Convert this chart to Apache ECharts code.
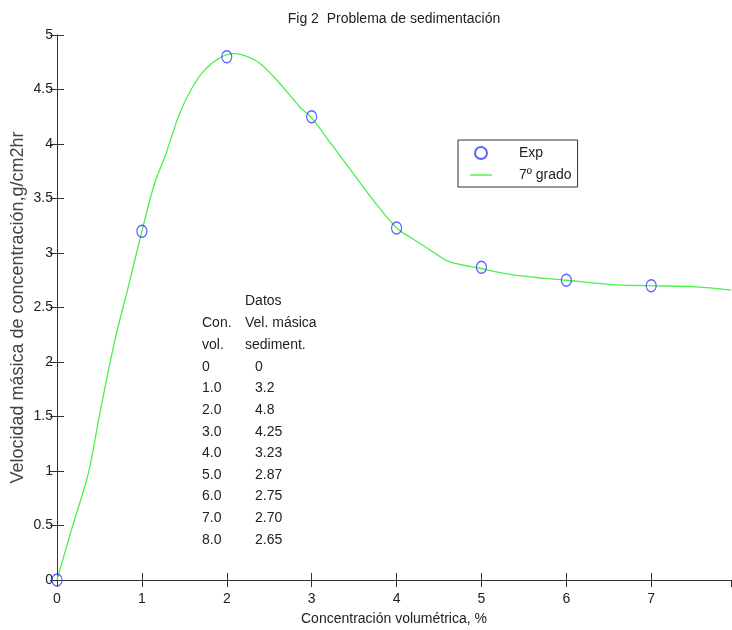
<!DOCTYPE html>
<html>
<head>
<meta charset="utf-8">
<script src="https://cdn.jsdelivr.net/npm/echarts@6/dist/echarts.min.js"></script>
<style>
  html, body { margin: 0; padding: 0; background: #fff; }
  #main { width: 732px; height: 630px; }
</style>
</head>
<body>
<div id="main"></div>
<script>
// datos experimentales
var conVol = [0, 1, 2, 3, 4, 5, 6, 7, 8];
var velMasica = [0, 3.2, 4.8, 4.25, 3.23, 2.87, 2.75, 2.70, 2.65];
// etiquetas de la tabla
var conLabels = ['0', '1.0', '2.0', '3.0', '4.0', '5.0', '6.0', '7.0', '8.0'];
var velLabels = ['0', '3.2', '4.8', '4.25', '3.23', '2.87', '2.75', '2.70', '2.65'];

// curva de ajuste (7º grado)
var fitX = [0, 0.17, 0.37, 0.49, 0.60, 0.70, 0.84, 1.0, 1.15, 1.27, 1.43, 1.58, 1.74, 1.94, 2.09, 2.25,
            2.39, 2.62, 2.86, 3.0, 3.25, 3.49, 3.72, 4.0, 4.19, 4.39, 4.62, 4.98, 5.37, 6.0, 6.54, 6.98, 7.53, 7.94];
var fitY = [0, 0.46, 0.98, 1.47, 1.90, 2.26, 2.69, 3.2, 3.64, 3.88, 4.25, 4.50, 4.68, 4.80, 4.83, 4.80,
            4.74, 4.56, 4.34, 4.24, 3.98, 3.73, 3.49, 3.23, 3.13, 3.03, 2.92, 2.86, 2.80, 2.75, 2.71, 2.70, 2.69, 2.66];

var FONT = '"Liberation Sans", Arial, sans-serif';
var AXC = '#333';
var GREEN = '#4cf04c';
var BLUE = '#3a3aff';

var myChart = echarts.init(document.getElementById('main'));

var expData = conVol.map(function (x, i) { return [x, velMasica[i]]; });
var fitData = fitX.map(function (x, i) { return [x, fitY[i]]; });

// texto de la tabla
var tableLines = [];
tableLines.push({ left: 245, top: 294, text: 'Datos' });
tableLines.push({ left: 202, top: 316, text: 'Con.' });
tableLines.push({ left: 245, top: 316, text: 'Vel. másica' });
tableLines.push({ left: 202, top: 338, text: 'vol.' });
tableLines.push({ left: 245, top: 338, text: 'sediment.' });
for (var i = 0; i < conLabels.length; i++) {
    tableLines.push({ left: 202, top: 360 + i * 21.6, text: conLabels[i] });
    tableLines.push({ left: 255, top: 360 + i * 21.6, text: velLabels[i] });
}

var axisCommon = {
    type: 'value',
    axisLine: { show: true, lineStyle: { color: AXC, width: 1 } },
    axisTick: { show: true, inside: true, length: 7, lineStyle: { color: AXC } },
    splitLine: { show: false },
    axisLabel: { color: '#222', fontFamily: FONT, fontSize: 14 }
};

myChart.setOption({
    animation: false,
    title: {
        text: 'Fig 2  Problema de sedimentación',
        left: 389, top: 7, textAlign: 'center',
        textStyle: { fontFamily: FONT, fontSize: 14, fontWeight: 'normal', color: '#222' }
    },
    grid: { left: 57, right: 1, top: 35, bottom: 50, outerBoundsMode: 'none' },
    legend: {
        orient: 'vertical',
        left: 458, top: 140,
        borderColor: '#333', borderWidth: 1,
        padding: [6, 6, 5, 12],
        itemGap: 8,
        itemWidth: 22, itemHeight: 12,
        textStyle: { fontFamily: FONT, fontSize: 14, color: '#222', padding: [0, 0, 0, 22] },
        data: [
            { name: 'Exp' },
            { name: '7º grado', icon: 'path://M0,0M22,12M0,5.3L22,5.3L22,6.7L0,6.7Z' }
        ]
    },
    xAxis: [
        Object.assign({}, axisCommon, {
            min: 0, max: 7.94, interval: 1,
            name: 'Concentración volumétrica, %',
            nameLocation: 'middle', nameGap: 32,
            nameTextStyle: { fontFamily: FONT, fontSize: 14, color: '#222' },
            axisLabel: Object.assign({}, axisCommon.axisLabel, { margin: 12, showMaxLabel: false })
        }),
        Object.assign({}, axisCommon, {
            position: 'top', min: 0, max: 7.94, interval: 1,
            axisLabel: { show: false }
        })
    ],
    yAxis: [
        Object.assign({}, axisCommon, {
            min: 0, max: 5, interval: 0.5,
            name: 'Velocidad másica de concentración,g/cm2hr',
            nameLocation: 'middle', nameGap: 30, nameMoveOverlap: false,
            nameTextStyle: { fontFamily: FONT, fontSize: 18, color: '#444' },
            axisLabel: Object.assign({}, axisCommon.axisLabel, { margin: 4 })
        }),
        Object.assign({}, axisCommon, {
            position: 'right', min: 0, max: 5, interval: 0.5,
            axisLabel: { show: false }
        })
    ],
    graphic: tableLines.map(function (t) {
        return {
            type: 'text', left: t.left, top: t.top, silent: true,
            style: { text: t.text, fill: '#222', font: '14px ' + FONT }
        };
    }),
    series: [
        {
            name: '7º grado',
            type: 'line',
            data: fitData,
            smooth: 0.3,
            symbol: 'none',
            clip: true,
            lineStyle: { color: GREEN, width: 1.3 },
            itemStyle: { color: GREEN },
            z: 2
        },
        {
            name: 'Exp',
            type: 'scatter',
            data: expData,
            symbol: 'circle',
            symbolSize: [10, 12],
            clip: true,
            itemStyle: { color: 'rgba(0,0,0,0)', borderColor: BLUE, borderWidth: 1.3 },
            z: 3
        }
    ]
});
</script>
</body>
</html>
